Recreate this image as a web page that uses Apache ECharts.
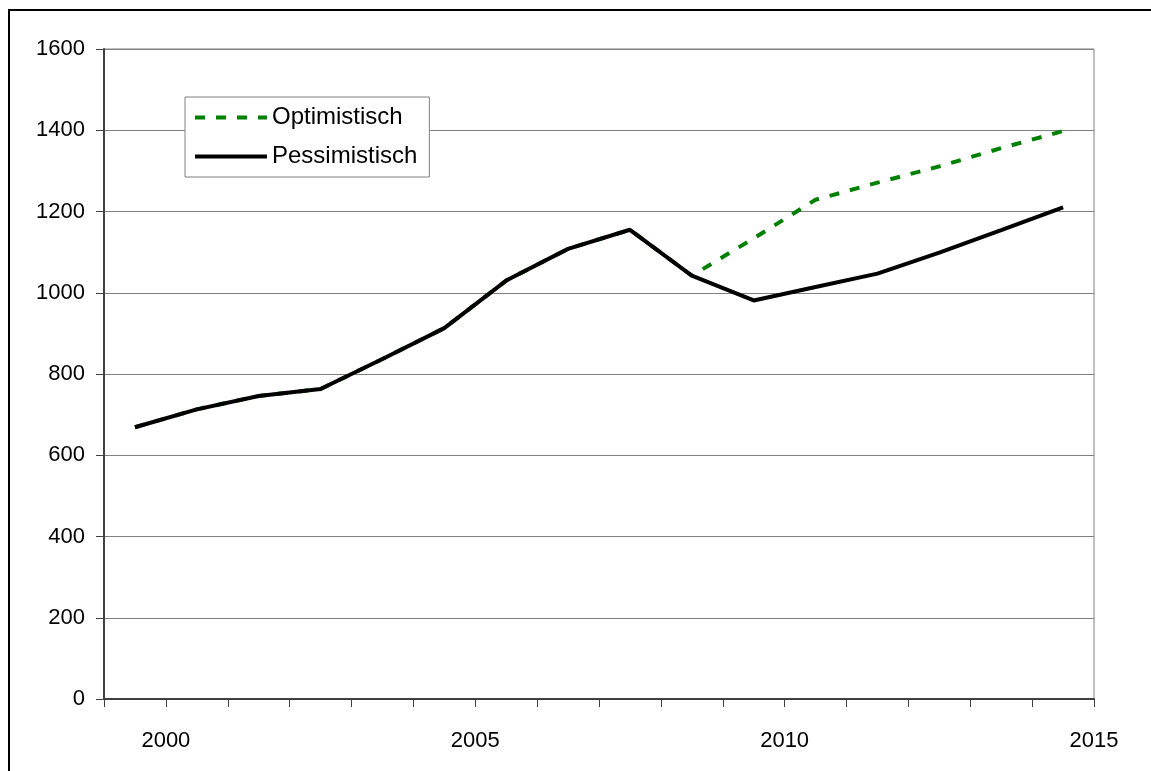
<!DOCTYPE html>
<html>
<head>
<meta charset="utf-8">
<script src="https://cdn.jsdelivr.net/npm/echarts@6/dist/echarts.min.js"></script>
<style>
  html, body { margin: 0; padding: 0; background: #fff; }
  #chart { width: 1151px; height: 771px; }
</style>
</head>
<body>
<div id="chart"></div>
<script>
// jaren (midden van het jaar), zoals in de grafiek
var years = [1999.5, 2000.5, 2001.5, 2002.5, 2003.5, 2004.5, 2005.5, 2006.5,
             2007.5, 2008.5, 2009.5, 2010.5, 2011.5, 2012.5, 2013.5, 2014.5];
var optimistisch = [669, 713, 746, 763, 837, 913, 1030, 1108,
                    1155, 1042, 1134, 1229, 1271, 1311, 1356, 1398];
var pessimistisch = [669, 713, 746, 763, 837, 913, 1030, 1108,
                     1155, 1042, 981, 1014, 1047, 1099, 1154, 1210];
var xLabels = [2000, 2005, 2010, 2015];

function pairs(vals) {
  return years.map(function (y, i) { return [y, vals[i]]; });
}

var chart = echarts.init(document.getElementById('chart'));
var font = 'Liberation Sans, Arial, sans-serif';

chart.setOption({
  animation: false,
  backgroundColor: '#fff',
  graphic: [{
    type: 'rect',
    shape: { x: 9, y: 10, width: 1200, height: 800 },
    style: { fill: 'none', stroke: '#000', lineWidth: 2 },
    silent: true
  }],
  grid: {
    left: 104, right: 57, top: 49, bottom: 72,
    show: true, borderColor: '#808080', borderWidth: 1
  },
  legend: {
    orient: 'vertical',
    left: 185, top: 97,
    backgroundColor: '#fff',
    borderColor: '#808080', borderWidth: 1,
    padding: [8, 12, 8, 8],
    itemWidth: 72, itemHeight: 14, itemGap: 14,
    itemStyle: { opacity: 0 },
    lineStyle: { width: 4 },
    textStyle: { fontFamily: font, fontSize: 24, lineHeight: 25, color: '#000' },
    data: ['Optimistisch', 'Pessimistisch']
  },
  xAxis: {
    type: 'value',
    min: 1999, max: 2015, interval: 1,
    axisLine: { lineStyle: { color: '#404040', width: 2 } },
    axisTick: { show: true, length: 8, lineStyle: { color: '#404040', width: 1 } },
    axisLabel: {
      fontFamily: font, fontSize: 22, color: '#000', margin: 31,
      formatter: function (v) { return xLabels.indexOf(v) >= 0 ? String(v) : ''; }
    },
    splitLine: { show: false }
  },
  yAxis: {
    type: 'value',
    min: 0, max: 1600, interval: 200,
    axisLine: { show: true, lineStyle: { color: '#404040', width: 2 } },
    axisTick: { show: true, length: 8, lineStyle: { color: '#404040', width: 1 } },
    axisLabel: {
      fontFamily: font, fontSize: 22, color: '#000', margin: 19,
      formatter: function (v) { return String(v); }
    },
    splitLine: { lineStyle: { color: '#808080', width: 1 } }
  },
  series: [{
    name: 'Optimistisch',
    type: 'line',
    data: pairs(optimistisch),
    symbol: 'none',
    color: '#008000',
    lineStyle: { color: '#008000', width: 4, type: [10, 11] }
  }, {
    name: 'Pessimistisch',
    type: 'line',
    data: pairs(pessimistisch),
    symbol: 'none',
    color: '#000',
    lineStyle: { color: '#000', width: 4 }
  }]
});
</script>
</body>
</html>
